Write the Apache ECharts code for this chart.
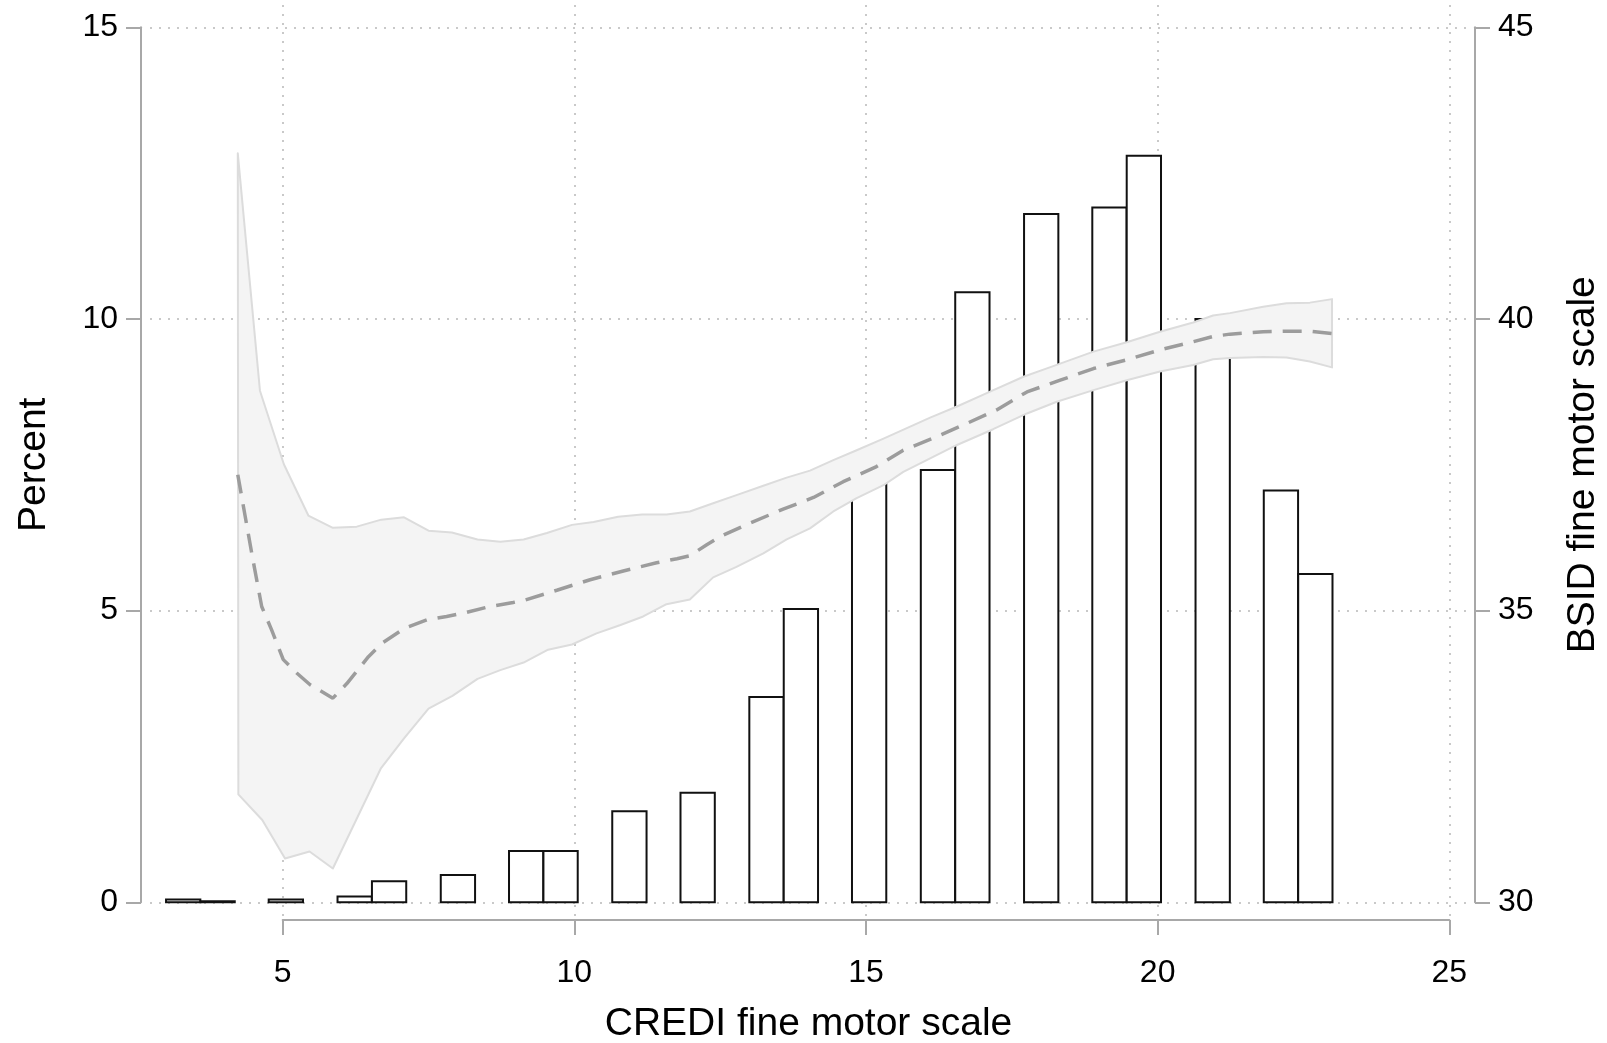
<!DOCTYPE html>
<html>
<head>
<meta charset="utf-8">
<title>CREDI fine motor scale</title>
<script src="https://cdn.jsdelivr.net/npm/echarts@6.0.0/dist/echarts.min.js"></script>
<style>
  html, body { margin: 0; padding: 0; background: #fff; }
  #chart { width: 1607px; height: 1043px; }
</style>
</head>
<body>
<div id="chart"></div>
<script>
// tick labels of the three axes
var percentTicks = [0, 5, 10, 15];
var bsidTicks = [30, 35, 40, 45];
var crediTicks = [5, 10, 15, 20, 25];

// histogram (only non-empty bins): lower edge of bin, percent
var binWidth = 0.588;
var binLow = [3.00, 3.59, 4.76, 5.94, 6.53, 7.71, 8.88, 9.47, 10.65, 11.82, 13.00,
  13.59, 14.76, 15.94, 16.53, 17.71, 18.88, 19.47, 20.65, 21.82, 22.41];
var binPct = [0.05, 0.02, 0.05, 0.10, 0.36, 0.47, 0.88, 0.88, 1.56, 1.88, 3.52,
  5.03, 7.7, 7.41, 10.46, 11.80, 11.91, 12.80, 10.0, 7.06, 5.63];

// local polynomial fit (BSID on CREDI)
var fitX = [4.23, 4.47, 4.64, 4.81, 5.01, 5.24, 5.47, 5.86, 6.10, 6.47, 6.70, 7.09, 7.47,
  7.81, 8.15, 8.55, 8.95, 9.15, 9.70, 10.27, 10.84, 11.41, 11.76, 11.98, 12.27, 12.50,
  13.01, 13.58, 14.10, 14.61, 15.18, 15.64, 16.21, 16.73, 17.24, 17.76, 18.33, 18.90,
  19.47, 20.04, 20.61, 20.95, 21.24, 21.81, 22.21, 22.61, 22.99];
var fitY = [37.33, 35.98, 35.07, 34.67, 34.16, 33.93, 33.73, 33.50, 33.75, 34.21, 34.44,
  34.70, 34.84, 34.90, 34.97, 35.07, 35.14, 35.18, 35.35, 35.53, 35.68, 35.82, 35.89,
  35.94, 36.13, 36.27, 36.50, 36.74, 36.94, 37.21, 37.47, 37.75, 37.98, 38.21, 38.44,
  38.75, 38.95, 39.15, 39.30, 39.47, 39.61, 39.70, 39.74, 39.78, 39.79, 39.79, 39.75];

// 95% CI, upper edge
var ciUpX = [4.23, 4.61, 5.02, 5.44, 5.86, 6.27, 6.69, 7.08, 7.50, 7.90, 8.34, 8.73, 9.13,
  9.53, 9.96, 10.33, 10.75, 11.16, 11.58, 11.98, 12.38, 12.78, 13.24, 13.64, 14.04, 14.44,
  14.84, 15.30, 15.70, 16.10, 16.56, 17.07, 17.70, 18.15, 18.90, 19.47, 20.04, 20.61,
  20.95, 21.24, 21.81, 22.21, 22.61, 22.99];
var ciUpY = [42.84, 38.77, 37.51, 36.63, 36.42, 36.44, 36.56, 36.60, 36.37, 36.34, 36.22,
  36.18, 36.22, 36.33, 36.47, 36.52, 36.61, 36.65, 36.65, 36.70, 36.84, 36.98, 37.14,
  37.28, 37.40, 37.58, 37.75, 37.95, 38.13, 38.31, 38.50, 38.73, 39.01, 39.17, 39.44,
  39.60, 39.78, 39.94, 40.06, 40.10, 40.21, 40.27, 40.28, 40.34];

// 95% CI, lower edge
var ciLoX = [4.24, 4.65, 5.04, 5.46, 5.86, 6.68, 7.08, 7.50, 7.91, 8.34, 8.73, 9.13, 9.55,
  9.96, 10.38, 10.78, 11.18, 11.58, 11.98, 12.38, 12.78, 13.24, 13.64, 14.04, 14.44,
  14.84, 15.30, 15.64, 16.56, 17.18, 17.76, 18.27, 18.90, 19.47, 20.04, 20.61, 20.95,
  21.24, 21.81, 22.21, 22.61, 22.99];
var ciLoY = [31.85, 31.41, 30.75, 30.87, 30.58, 32.29, 32.81, 33.32, 33.54, 33.83, 33.98,
  34.11, 34.33, 34.42, 34.61, 34.75, 34.90, 35.11, 35.19, 35.57, 35.75, 35.98, 36.22,
  36.41, 36.70, 36.93, 37.15, 37.38, 37.84, 38.11, 38.38, 38.58, 38.78, 38.95, 39.10,
  39.21, 39.31, 39.33, 39.35, 39.34, 39.27, 39.17];

var FONT = '"Liberation Sans", Arial, sans-serif';
var AXIS_GREY = '#a8a8a8';
var GRID_DOTS = {color: '#b8b8b8', width: 1.5, type: [2, 7]};

var histData = binLow.map(function (lo, i) {
  return [lo, lo + binWidth, binPct[i]];
});
var fitData = fitX.map(function (x, i) { return [x, fitY[i]]; });

function tickAxis(ticks) {   // min / max / interval from the tick list
  return {min: ticks[0], max: ticks[ticks.length - 1], interval: ticks[1] - ticks[0]};
}

var myChart = echarts.init(document.getElementById('chart'), null, {renderer: 'canvas'});

var option = {
  animation: false,
  backgroundColor: '#fff',
  textStyle: {fontFamily: FONT},
  grid: [
    // plot region used by the data and the horizontal grid lines
    {left: 150, width: 1317, top: 27.3, height: 875, outerBoundsMode: 'none', containLabel: false},
    // region for the CREDI axis and vertical grid lines
    {left: 282.7, width: 1166.6, top: 5, height: 915, outerBoundsMode: 'none', containLabel: false}
  ],
  xAxis: [
    {
      // data axis, only carries the title (centred on the whole plot region)
      gridIndex: 0, type: 'value', min: 2.725, max: 25.304,
      name: 'CREDI fine motor scale',
      nameLocation: 'middle',
      nameGap: 102,
      nameTextStyle: {fontSize: 39, color: '#000', fontFamily: FONT},
      axisLine: {show: false},
      axisTick: {show: false},
      axisLabel: {show: false},
      splitLine: {show: false}
    },
    Object.assign({
      gridIndex: 1,
      type: 'value',
      position: 'bottom',
      offset: 8.3,
      axisLine: {show: true, lineStyle: {color: AXIS_GREY, width: 2}},
      axisTick: {show: true, length: 15, lineStyle: {color: AXIS_GREY, width: 2}},
      axisLabel: {fontSize: 32, color: '#000', margin: 29, fontFamily: FONT},
      splitLine: {show: true, lineStyle: GRID_DOTS}
    }, tickAxis(crediTicks))
  ],
  yAxis: [
    Object.assign({
      gridIndex: 0,
      type: 'value',
      position: 'left',
      offset: 9,
      name: 'Percent',
      nameLocation: 'middle',
      nameRotate: 90,
      nameGap: 87,
      nameTextStyle: {fontSize: 39, color: '#000', fontFamily: FONT},
      axisLine: {show: true, lineStyle: {color: AXIS_GREY, width: 2}},
      axisTick: {show: true, length: 15, lineStyle: {color: AXIS_GREY, width: 2}},
      axisLabel: {fontSize: 32, color: '#000', margin: 23, fontFamily: FONT},
      splitLine: {show: true, lineStyle: GRID_DOTS}
    }, tickAxis(percentTicks)),
    Object.assign({
      gridIndex: 0,
      type: 'value',
      position: 'right',
      offset: 8,
      name: 'BSID fine motor scale',
      nameLocation: 'middle',
      nameRotate: 90,
      nameGap: 89,
      nameTextStyle: {fontSize: 39, color: '#000', fontFamily: FONT},
      axisLine: {show: true, lineStyle: {color: AXIS_GREY, width: 2}},
      axisTick: {show: true, length: 15, lineStyle: {color: AXIS_GREY, width: 2}},
      axisLabel: {fontSize: 32, color: '#000', margin: 23, fontFamily: FONT},
      splitLine: {show: false}
    }, tickAxis(bsidTicks)),
    {gridIndex: 1, type: 'value', min: 0, max: 1, show: false}
  ],
  series: [
    {
      // histogram bars, edges come from the x scale
      name: 'hist',
      type: 'custom',
      xAxisIndex: 0,
      yAxisIndex: 0,
      z: 2,
      silent: true,
      data: histData,
      renderItem: function (params, api) {
        var p0 = api.coord([api.value(0), 0]);
        var p1 = api.coord([api.value(1), api.value(2)]);
        return {
          type: 'rect',
          shape: {x: p0[0], y: p1[1], width: p1[0] - p0[0], height: p0[1] - p1[1]},
          style: {fill: '#fff', stroke: '#111', lineWidth: 2}
        };
      }
    },
    {
      // confidence band as one polygon
      name: 'ci',
      type: 'custom',
      xAxisIndex: 0,
      yAxisIndex: 1,
      z: 3,
      silent: true,
      data: [[ciUpX[0], ciUpY[0]]],
      renderItem: function (params, api) {
        var pts = [];
        ciUpX.forEach(function (x, i) { pts.push(api.coord([x, ciUpY[i]])); });
        for (var i = ciLoX.length - 1; i >= 0; i--) {
          pts.push(api.coord([ciLoX[i], ciLoY[i]]));
        }
        return {
          type: 'polygon',
          shape: {points: pts},
          style: {fill: '#f4f4f4', stroke: '#dcdcdc', lineWidth: 2, lineJoin: 'round'}
        };
      }
    },
    {
      name: 'fit',
      type: 'line',
      xAxisIndex: 0,
      yAxisIndex: 1,
      z: 4,
      silent: true,
      showSymbol: false,
      symbol: 'none',
      data: fitData,
      lineStyle: {color: '#9c9c9c', width: 3.5, type: [19, 11]}
    }
  ]
};

myChart.setOption(option);
window.addEventListener('resize', function () {
  myChart.resize();
});
</script>
</body>
</html>
